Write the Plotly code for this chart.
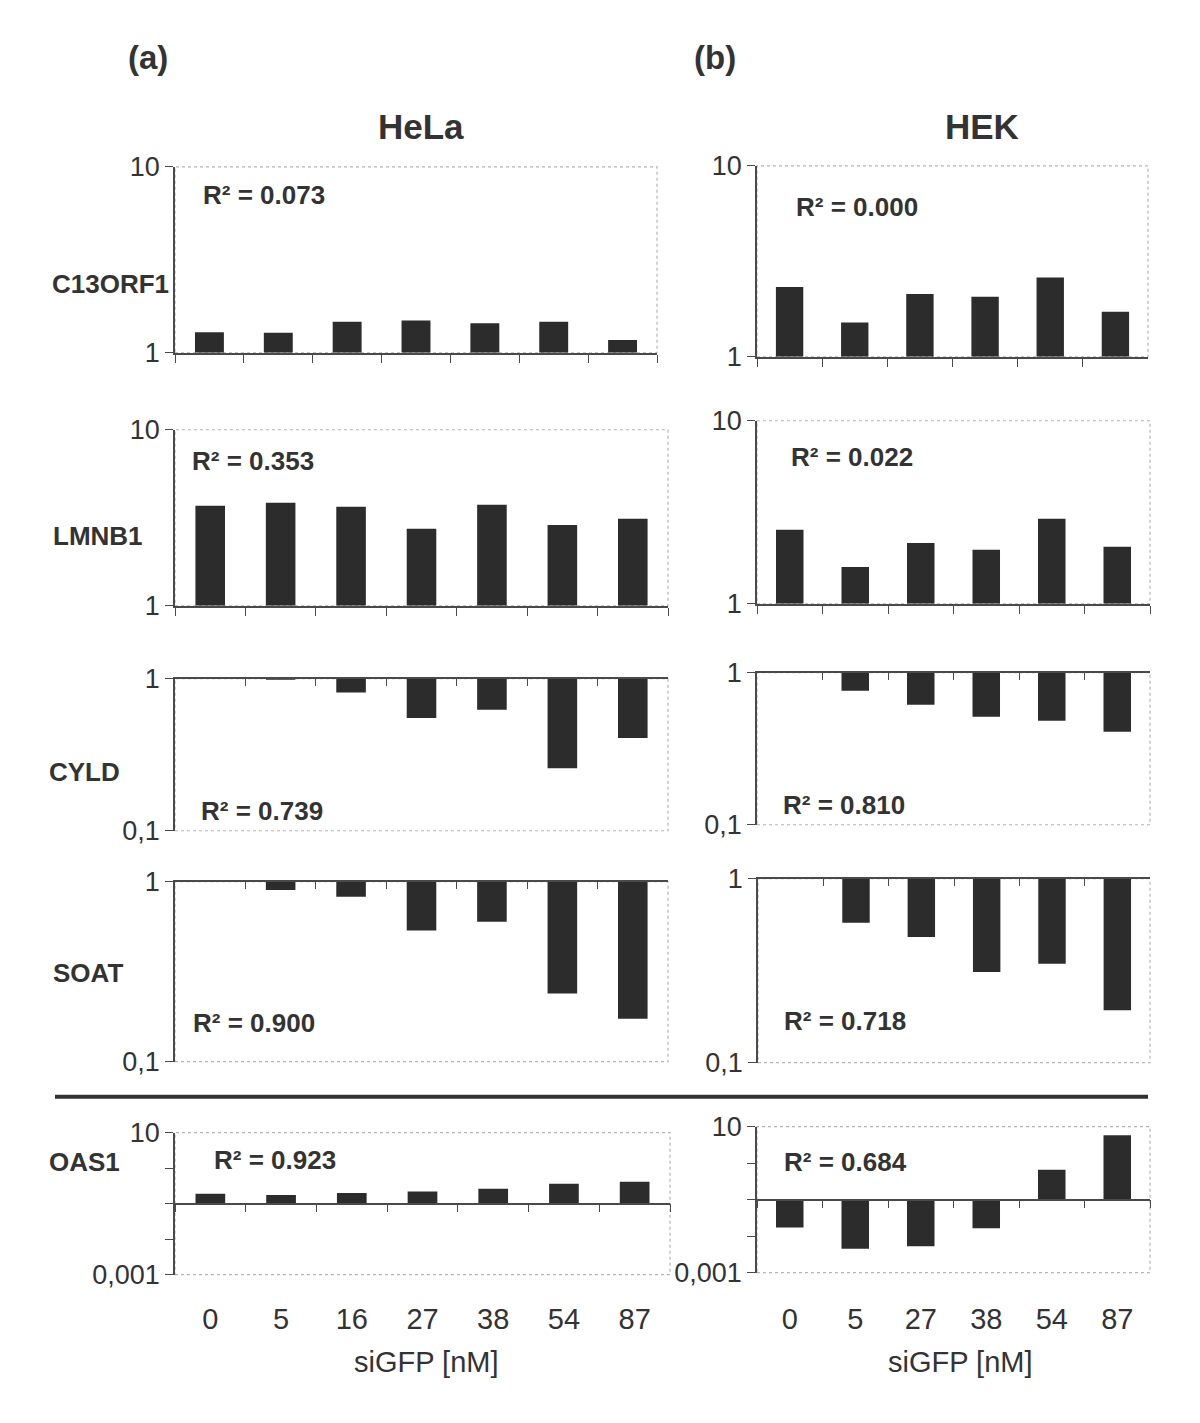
import plotly.graph_objects as go

# ---------------- data ----------------
hela_doses = ['0', '5', '16', '27', '38', '54', '87']
hek_doses = ['0', '5', '27', '38', '54', '87']

hela_c13orf1 = [1.29, 1.28, 1.47, 1.49, 1.44, 1.47, 1.17]
hela_lmnb1 = [3.70, 3.85, 3.65, 2.74, 3.75, 2.88, 3.12]
hela_cyld = [1.0, 0.985, 0.813, 0.551, 0.625, 0.258, 0.407]
hela_soat = [1.0, 0.90, 0.825, 0.535, 0.60, 0.239, 0.173]
hela_oas1 = [0.191, 0.175, 0.200, 0.222, 0.265, 0.367, 0.418]

hek_c13orf1 = [2.32, 1.51, 2.13, 2.06, 2.60, 1.72]
hek_lmnb1 = [2.54, 1.59, 2.15, 1.97, 2.91, 2.05]
hek_cyld = [1.0, 0.76, 0.616, 0.513, 0.483, 0.409]
hek_soat = [1.0, 0.577, 0.482, 0.311, 0.345, 0.193]
hek_oas1 = [0.0173, 0.00456, 0.0053, 0.0166, 0.658, 5.79]

genes = ['C13ORF1', 'LMNB1', 'CYLD', 'SOAT', 'OAS1']
r2_hela = ['0.073', '0.353', '0.739', '0.900', '0.923']
r2_hek = ['0.000', '0.022', '0.810', '0.718', '0.684']

# ---------------- style / layout config ----------------
W, H = 1200, 1423
FONT = 'Liberation Sans, Arial, Helvetica, sans-serif'
TXT = '#333333'
BAR = '#2c2c2c'
AXC = '#4a4a4a'

# page calibration (page offset / scale of the rendered figure)
OX, OY, SY = 8.0, 23.2, 0.979


def fx(px):
    return (px - OX) / W


def fy(py):
    return 1 - ((py - OY) / SY) / H


# per-row axis settings: (log range, tickvals, ticktext, minor tickvals, base, x-axis side)
row_cfg = [
    ([0, 1], [1, 10], ['1', '10'], [], 1.0, 'bottom'),
    ([0, 1], [1, 10], ['1', '10'], [], 1.0, 'bottom'),
    ([-1, 0], [0.1, 1], ['0,1', '1'], [], 1.0, 'top'),
    ([-1, 0], [0.1, 1], ['0,1', '1'], [], 1.0, 'top'),
    ([-3, 1], [0.001, 10], ['0,001', '10'], [0.01, 0.1, 1], 0.1, 'mid'),
]

# pixel boxes in the reference: (x0, x1, ytop, ybottom)
hela_box = [(175, 657, 167, 353), (175, 668, 430, 606), (175, 668, 679, 831),
            (175, 668, 882, 1062), (175, 670, 1133, 1275)]
hek_box = [(757, 1148, 166, 357), (757, 1150, 421, 604), (757, 1150, 673, 825),
           (758, 1150, 879, 1063), (757, 1150, 1127, 1273)]
label_standoff = {'hela': 90, 'hek': 94}

gene_pos = [(110, 284), (98, 536), (84, 772), (88, 973), (84, 1162)]
r2_pos_hela = [(201, 195), (190, 461), (199, 811), (191, 1023), (212, 1160)]
r2_pos_hek = [(794, 207), (789, 457), (781, 805), (782, 1021), (782, 1162)]

hela_vals = [hela_c13orf1, hela_lmnb1, hela_cyld, hela_soat, hela_oas1]
hek_vals = [hek_c13orf1, hek_lmnb1, hek_cyld, hek_soat, hek_oas1]

panels = []
for r in range(5):
    panels.append(dict(doses=hela_doses, vals=hela_vals[r], box=hela_box[r], row=r, col='hela'))
for r in range(5):
    panels.append(dict(doses=hek_doses, vals=hek_vals[r], box=hek_box[r], row=r, col='hek'))

fig = go.Figure()
layout = {}
shapes = []

for i, p in enumerate(panels, start=1):
    sfx = '' if i == 1 else str(i)
    xa, ya = 'x' + sfx, 'y' + sfx
    rng, tv, tt, minor_tv, base, side = row_cfg[p['row']]
    x0, x1, yt, yb = p['box']

    fig.add_trace(go.Bar(
        x=p['doses'], y=[v - base for v in p['vals']], base=base,
        xaxis=xa, yaxis=ya, width=0.42,
        marker=dict(color=BAR, line=dict(width=0)),
        showlegend=False, hoverinfo='skip'))

    ydom = [fy(yb), fy(yt)]
    xax = dict(domain=[fx(x0), fx(x1)], type='category',
               categoryorder='array', categoryarray=p['doses'],
               showline=True, linecolor=AXC, linewidth=1.5,
               tickson='boundaries', ticklen=8, tickcolor=AXC, tickwidth=1.2,
               showgrid=False, zeroline=False, fixedrange=True,
               range=[-0.5, len(p['doses']) - 0.5])
    if side == 'bottom':
        xax.update(anchor=ya, side='bottom', ticks='outside', showticklabels=False)
    elif side == 'top':
        xax.update(anchor=ya, side='top', ticks='inside', showticklabels=False)
    else:
        frac = (-1 - rng[0]) / (rng[1] - rng[0])  # axis crosses at 0.1 (log10 = -1)
        pos = ydom[0] + frac * (ydom[1] - ydom[0])
        xax.update(anchor='free', position=pos, side='bottom', ticks='outside',
                   showticklabels=True, ticklabelstandoff=label_standoff[p['col']],
                   tickfont=dict(family=FONT, size=29, color=TXT))
    yax = dict(domain=ydom, anchor=xa, type='log', range=rng,
               tickmode='array', tickvals=tv, ticktext=tt,
               ticks='outside', ticklen=8, tickcolor=AXC, tickwidth=1.2,
               showline=True, linecolor=AXC, linewidth=1.5,
               showgrid=False, zeroline=False, fixedrange=True,
               tickfont=dict(family=FONT, size=27, color=TXT))
    if minor_tv:
        yax['minor'] = dict(tickmode='array', tickvals=minor_tv, ticks='outside',
                            ticklen=8, tickcolor=AXC, tickwidth=1.2, showgrid=False)
    layout['xaxis' + sfx] = xax
    layout['yaxis' + sfx] = yax

    shapes.append(dict(type='rect', xref=xa + ' domain', yref=ya + ' domain',
                       x0=0, x1=1, y0=0, y1=1, layer='below',
                       line=dict(color='#b5b5b5', width=1.2, dash='dot')))

# thick separator line
shapes.append(dict(type='line', xref='paper', yref='paper',
                   x0=fx(55), x1=fx(1148), y0=fy(1097), y1=fy(1097),
                   line=dict(color='#333333', width=4)))

ann = []


def add_text(text, px, py, size, bold=False, xanchor='center'):
    ann.append(dict(text=text,
                    x=fx(px), y=fy(py), xref='paper', yref='paper',
                    xanchor=xanchor, yanchor='middle', showarrow=False,
                    font=dict(family=FONT, size=size, color=TXT,
                              weight='bold' if bold else 'normal')))


add_text('(a)', 148, 58, 33, bold=True)
add_text('(b)', 715, 58, 33, bold=True)
add_text('HeLa', 421, 127, 35, bold=True)
add_text('HEK', 982, 127, 35, bold=True)

for r in range(5):
    add_text(genes[r], gene_pos[r][0], gene_pos[r][1], 26, bold=True)
    add_text('R² = ' + r2_hela[r], r2_pos_hela[r][0], r2_pos_hela[r][1], 26,
             bold=True, xanchor='left')
    add_text('R² = ' + r2_hek[r], r2_pos_hek[r][0], r2_pos_hek[r][1], 26,
             bold=True, xanchor='left')

add_text('siGFP [nM]', 426, 1362, 29)
add_text('siGFP [nM]', 960, 1362, 29)

fig.update_layout(width=W, height=H, margin=dict(l=0, r=0, t=0, b=0),
                  paper_bgcolor='white', plot_bgcolor='white',
                  bargap=0.58, showlegend=False,
                  shapes=shapes, annotations=ann,
                  font=dict(family=FONT, color=TXT), **layout)

fig.write_html('out.html')
